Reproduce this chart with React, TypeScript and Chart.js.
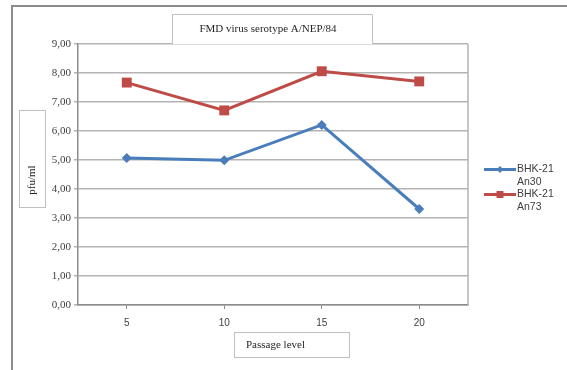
import React, { useEffect, useRef } from "react";
import { Chart, registerables } from "chart.js";

Chart.register(...registerables);

const categories = ["5", "10", "15", "20"];
const seriesAn30 = [5.07, 4.99, 6.21, 3.31];
const seriesAn73 = [7.67, 6.71, 8.06, 7.71];
const seriesNames = [["BHK-21", "An30"], ["BHK-21", "An73"]];
const chartTitle = "FMD virus serotype A/NEP/84";
const yTitle = "pfu/ml";
const xTitle = "Passage level";

const BLUE = "#4A7EBB";
const RED = "#BE4B48";

const decorPlugin = {
  id: "decor",
  beforeDraw(chart: any) {
    const ctx = chart.ctx;
    ctx.save();
    ctx.fillStyle = "#ffffff";
    ctx.fillRect(0, 0, chart.width, chart.height);
    // outer frame
    ctx.strokeStyle = "#8c8c8c";
    ctx.lineWidth = 2;
    ctx.beginPath();
    ctx.moveTo(12, chart.height);
    ctx.lineTo(12, 6);
    ctx.lineTo(chart.width, 6);
    ctx.stroke();
    ctx.restore();
  },
  afterDraw(chart: any) {
    const ctx = chart.ctx;
    const a = chart.chartArea;
    ctx.save();
    // right plot border
    ctx.strokeStyle = "#b3b3b3";
    ctx.lineWidth = 1.5;
    ctx.beginPath();
    ctx.moveTo(a.right, a.top);
    ctx.lineTo(a.right, a.bottom);
    ctx.stroke();

    // title box
    ctx.fillStyle = "#ffffff";
    ctx.strokeStyle = "#bfbfbf";
    ctx.lineWidth = 1;
    ctx.fillRect(172.5, 14.5, 200, a.top - 14.5);
    ctx.beginPath();
    ctx.moveTo(172.5, a.top);
    ctx.lineTo(172.5, 14.5);
    ctx.lineTo(372.5, 14.5);
    ctx.lineTo(372.5, a.top);
    ctx.stroke();
    ctx.fillStyle = "#262626";
    ctx.font = "11px 'Liberation Serif'";
    ctx.textAlign = "center";
    ctx.textBaseline = "middle";
    ctx.fillText(chartTitle, 268, 29);

    // y title box
    ctx.fillStyle = "#ffffff";
    ctx.strokeStyle = "#bfbfbf";
    ctx.fillRect(19.5, 110.5, 26, 97);
    ctx.strokeRect(19.5, 110.5, 26, 97);
    ctx.save();
    ctx.translate(32.5, 180);
    ctx.rotate(-Math.PI / 2);
    ctx.fillStyle = "#262626";
    ctx.font = "11px 'Liberation Serif'";
    ctx.textAlign = "center";
    ctx.textBaseline = "middle";
    ctx.fillText(yTitle, 0, 0);
    ctx.restore();

    // x title box
    ctx.fillStyle = "#ffffff";
    ctx.strokeStyle = "#bfbfbf";
    ctx.fillRect(234.5, 332.5, 115, 25);
    ctx.strokeRect(234.5, 332.5, 115, 25);
    ctx.fillStyle = "#262626";
    ctx.font = "11px 'Liberation Serif'";
    ctx.textAlign = "left";
    ctx.textBaseline = "middle";
    ctx.fillText(xTitle, 246, 345);

    // legend
    const items = [
      { color: BLUE, style: "diamond", y: 169.5, names: seriesNames[0] },
      { color: RED, style: "square", y: 194.5, names: seriesNames[1] },
    ];
    ctx.font = "10.5px 'Liberation Sans'";
    ctx.textAlign = "left";
    ctx.textBaseline = "middle";
    items.forEach((it) => {
      ctx.strokeStyle = it.color;
      ctx.lineWidth = 3;
      ctx.beginPath();
      ctx.moveTo(484, it.y);
      ctx.lineTo(516, it.y);
      ctx.stroke();
      ctx.fillStyle = it.color;
      ctx.beginPath();
      if (it.style === "diamond") {
        ctx.moveTo(500, it.y - 3.5);
        ctx.lineTo(503.5, it.y);
        ctx.lineTo(500, it.y + 3.5);
        ctx.lineTo(496.5, it.y);
        ctx.closePath();
      } else {
        ctx.rect(496.5, it.y - 3.5, 7, 7);
      }
      ctx.fill();
      ctx.fillStyle = "#404040";
      ctx.fillText(it.names[0], 517, it.y);
      ctx.fillText(it.names[1], 517, it.y + 13);
    });
    ctx.restore();
  },
};

export default function App() {
  const ref = useRef<HTMLCanvasElement | null>(null);
  useEffect(() => {
    if (!ref.current) return;
    const chart = new Chart(ref.current, {
      type: "line",
      data: {
        labels: categories,
        datasets: [
          {
            label: seriesNames[0].join(" "),
            data: seriesAn30,
            borderColor: BLUE,
            backgroundColor: BLUE,
            borderWidth: 3,
            pointStyle: "rectRot",
            pointRadius: 5,
            pointBorderWidth: 0,
            tension: 0,
          },
          {
            label: seriesNames[1].join(" "),
            data: seriesAn73,
            borderColor: RED,
            backgroundColor: RED,
            borderWidth: 3,
            pointStyle: "rect",
            pointRadius: 7,
            pointBorderWidth: 0,
            tension: 0,
          },
        ],
      },
      options: {
        animation: false,
        responsive: false,
        layout: { padding: { left: 0, top: 44, right: 99, bottom: 0 } },
        plugins: { legend: { display: false }, tooltip: { enabled: false }, title: { display: false } },
        scales: {
          x: {
            offset: true,
            grid: { offset: false, drawOnChartArea: false, drawTicks: true, tickLength: 4, color: "#8c8c8c" },
            border: { color: "#8c8c8c", width: 1.5 },
            ticks: { color: "#404040", font: { family: "'Liberation Sans'", size: 10 }, padding: 8 },
            afterFit: (s: any) => {
              s.height = 65;
            },
          },
          y: {
            min: 0,
            max: 9,
            ticks: {
              stepSize: 1,
              color: "#404040",
              font: { family: "'Liberation Serif'", size: 11 },
              padding: 3,
              callback: (v: any) => Number(v).toFixed(2).replace(".", ","),
            },
            grid: { color: "#b3b3b3", lineWidth: 1.5, tickLength: 4 },
            border: { color: "#8c8c8c", width: 1.5 },
            afterFit: (s: any) => {
              s.width = 78;
            },
          },
        },
      },
      plugins: [decorPlugin],
    });
    return () => chart.destroy();
  }, []);
  return (
    <div style={{ position: "fixed", left: 0, top: 0, width: 567, height: 370 }}>
      <canvas ref={ref} width={567} height={370} style={{ width: 567, height: 370 }} />
    </div>
  );
}
